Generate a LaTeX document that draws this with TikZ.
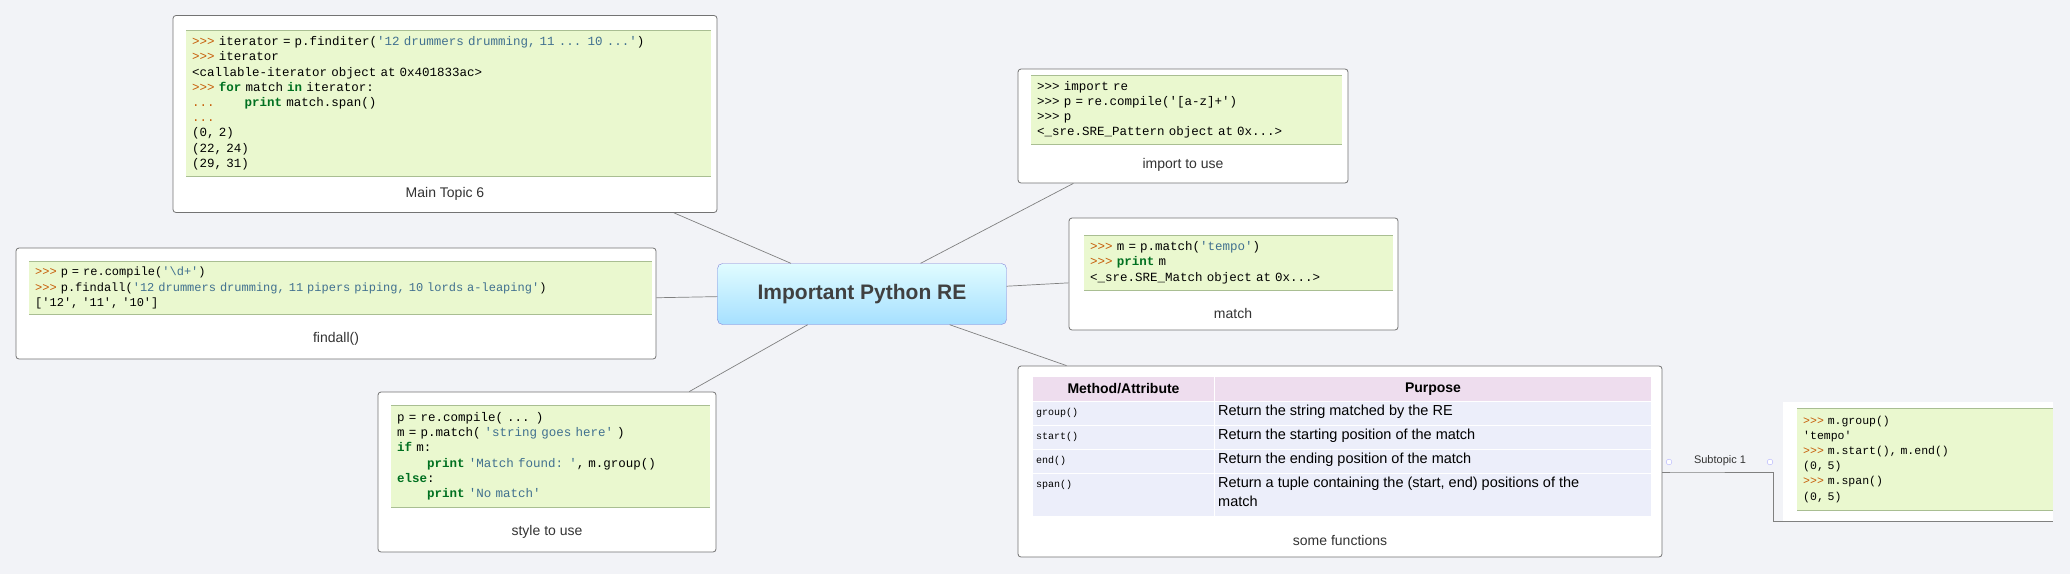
\documentclass[tikz,border=0pt]{standalone}
\usepackage{fontspec}
\setmainfont{Liberation Sans}
\setmonofont{Liberation Mono}
\usepackage{xcolor}
\usepackage{tikz}

\definecolor{bgcol}{HTML}{F2F3F7}
\definecolor{codebg}{HTML}{EAF8CF}
\definecolor{coderule}{HTML}{A9BE92}
\definecolor{promptcol}{HTML}{C65D09}
\definecolor{kwcol}{HTML}{007020}
\definecolor{strcol}{HTML}{40708F}
\definecolor{headcol}{HTML}{EEDDEE}
\definecolor{rowcol}{HTML}{ECEEFA}
\newcommand{\pr}{\textcolor{promptcol}{>>>}}
\newcommand{\kw}[1]{\textcolor{kwcol}{\textbf{#1}}}
\newcommand{\st}[1]{\textcolor{strcol}{#1}}
\newcommand{\ind}{\phantom{xxxx}}

\tikzset{
  topic/.style={draw=black!55, fill=white, rounded corners=3pt, line width=0.8pt},
  code/.style={fill=codebg, anchor=north west, align=left, inner sep=6pt,
    font=\fontsize{12.5}{15.2}\selectfont\ttfamily},
  lbl/.style={font=\fontsize{14}{16}\selectfont, text=black!80},
  conn/.style={draw=black!50, line width=0.7pt},
  cell/.style={anchor=north west, inner sep=0pt, draw=white, line width=1pt}
}

\begin{document}
\begin{tikzpicture}[x=1pt, y=-1pt]
    \useasboundingbox[fill=bgcol] (0,0) rectangle (2070,574);

    % central topic
    \node[draw=black!30!blue!50, rounded corners=5pt, top color=blue!10!cyan!12, bottom color=blue!35!cyan!35,
        minimum width=289pt, minimum height=61pt, font=\fontsize{21}{24}\selectfont\bfseries, text=black!75] (C) at (862,294) {Important Python RE};

    % topic boxes
    \node[topic, minimum width=544pt, minimum height=197pt] (MT) at (445,114) {};
    \node[topic, minimum width=330pt, minimum height=114pt] (IM) at (1183,126) {};
    \node[topic, minimum width=329pt, minimum height=112pt] (MA) at (1233.5,274) {};
    \node[topic, minimum width=640pt, minimum height=111pt] (FA) at (336,303.5) {};
    \node[topic, minimum width=338pt, minimum height=160pt] (ST) at (547,472) {};
    \node[topic, minimum width=644pt, minimum height=191pt] (SF) at (1340,461.5) {};
    \node[fill=white, minimum width=270pt, minimum height=120pt, inner sep=0pt] (SB) at (1918,462) {};

    % code blocks
    \node[code, text width=513pt, minimum height=146pt] (MTc) at (186,30) {%
        \pr{} iterator = p.finditer(\st{'12 drummers drumming, 11 ... 10 ...'})\\
        \pr{} iterator\\
        <callable-iterator object at 0x401833ac>\\
        \pr{} \kw{for} match \kw{in} iterator:\\
        \textcolor{promptcol}{...}\ind\kw{print} match.span()\\
        \textcolor{promptcol}{...}\\
        (0, 2)\\
        (22, 24)\\
        (29, 31)};
    \node[code, text width=299pt, minimum height=69pt] (IMc) at (1031,75) {%
        >>> import re\\
        >>> p = re.compile('[a-z]+')\\
        >>> p\\
        <\_sre.SRE\_Pattern object at 0x...>};
    \node[code, text width=297pt, minimum height=55pt] (MAc) at (1084,235) {%
        \pr{} m = p.match(\st{'tempo'})\\
        \pr{} \kw{print} m\\
        <\_sre.SRE\_Match object at 0x...>};
    \node[code, text width=611pt, minimum height=52pt, font=\fontsize{12}{15.2}\selectfont\ttfamily] (FAc) at (29,261) {%
        \pr{} p = re.compile(\st{'\textbackslash d+'})\\
        \pr{} p.findall(\st{'12 drummers drumming, 11 pipers piping, 10 lords a-leaping'})\\
        {[}'12', '11', '10']};
    \node[code, text width=307pt, minimum height=102pt] (STc) at (391,405) {%
        p = re.compile( ... )\\
        m = p.match( \st{'string goes here'} )\\
        \kw{if} m:\\
        \ind\kw{print} \st{'Match found: '}, m.group()\\
        \kw{else}:\\
        \ind\kw{print} \st{'No match'}};
    \node[code, text width=244pt, minimum height=102pt, font=\fontsize{11.5}{15.2}\selectfont\ttfamily] (SBc) at (1797,408) {%
        \pr{} m.group()\\
        'tempo'\\
        \pr{} m.start(), m.end()\\
        (0, 5)\\
        \pr{} m.span()\\
        (0, 5)};
    \foreach \c in {MTc, IMc, MAc, FAc, STc, SBc} {
        \draw[coderule, line width=1pt] (\c.north west) -- (\c.north east);
        \draw[coderule, line width=1pt] (\c.south west) -- (\c.south east);
    }

    % table
    \node[cell, fill=headcol, minimum width=182pt, minimum height=25pt, font=\fontsize{14}{15}\selectfont\bfseries] (h1) at (1032,376) {Method/Attribute};
    \node[cell, fill=headcol, minimum width=437pt, minimum height=25pt, font=\fontsize{14}{15}\selectfont\bfseries] (h2) at (1214,376) {Purpose};
    \foreach \n/\y/\h/\m/\p in {r1/401/24/group()/{Return the string matched by the RE},
                                r2/425/24/start()/{Return the starting position of the match},
                                r3/449/24/end()/{Return the ending position of the match},
                                r4/473/43/span()/{Return a tuple containing the (start, end) positions of the\\match}} {
        \node[cell, fill=rowcol, minimum width=182pt, minimum height=\h pt] (\n a) at (1032,\y) {};
        \node[anchor=north west, font=\fontsize{10}{11}\selectfont\ttfamily, inner sep=0pt] at (1036,\y+7) {\m};
        \node[cell, fill=rowcol, minimum width=437pt, minimum height=\h pt] (\n b) at (1214,\y) {};
        \node[anchor=north west, align=left, font=\fontsize{14.5}{19}\selectfont, inner sep=0pt] at (1218,\y+4) {\p};
    }

    % labels
    \node[lbl] (MTl) at (445,194) {Main Topic 6};
    \node[lbl] (IMl) at (1183,165) {import to use};
    \node[lbl] (MAl) at (1233,313) {match};
    \node[lbl] (FAl) at (336,339) {findall()};
    \node[lbl] (STl) at (547,532) {style to use};
    \node[lbl] (SFl) at (1340,540) {some functions};

    % connectors
    \foreach \t in {MT, IM, MA, FA, ST, SF}
        \path[conn] (C) -- (\t);

    % subtopic
    \node[font=\fontsize{11}{12}\selectfont, text=black!80] (S1) at (1720,461) {Subtopic 1};
    \node[draw=blue!30, fill=white, circle, inner sep=2pt] (o1) at (1669,462) {};
    \node[draw=blue!30, fill=white, circle, inner sep=2pt] (o2) at (1770,462) {};
    \coordinate (k1) at (1677,472);
    \coordinate (k2) at (1773,472);
    \coordinate (k3) at (1773,521);
    \path[conn] (SF.east |- k1) -- (k1) -- (k2) -- (k3) -- (SB.south east |- k3);
\end{tikzpicture}
\end{document}
